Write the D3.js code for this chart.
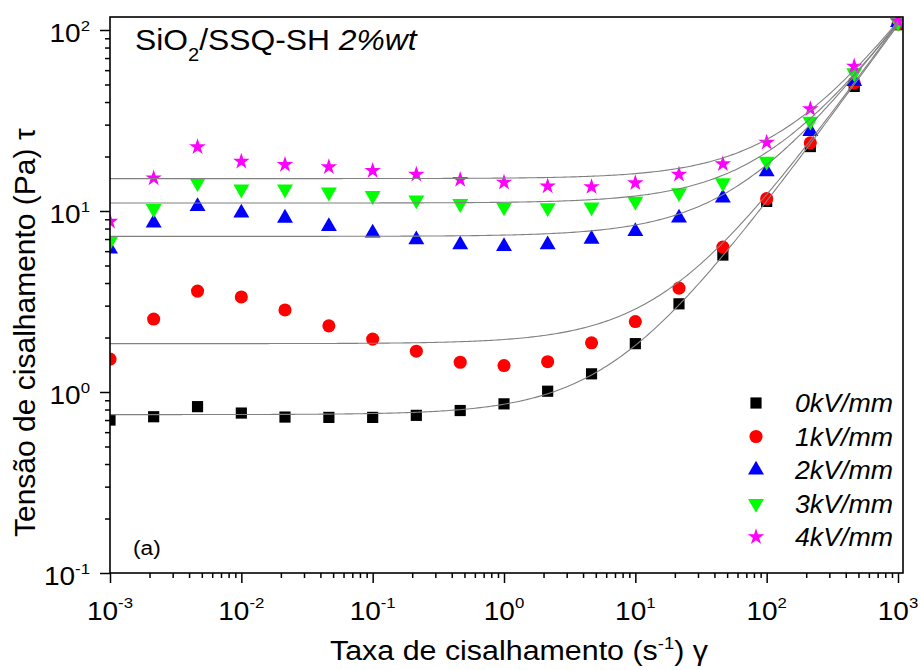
<!DOCTYPE html>
<html><head><meta charset="utf-8">
<script src="https://cdn.jsdelivr.net/npm/d3@7"></script>
<style>
html,body{margin:0;padding:0;background:#fff;}
svg{display:block;font-family:Arial,"Liberation Sans",sans-serif;}
</style></head>
<body>
<svg id="chart" width="920" height="670"></svg>
<script>
// ---- data ----
const shearRate = [0.001, 0.00215, 0.00464, 0.01, 0.0215, 0.0464, 0.1, 0.215, 0.464, 1, 2.15, 4.64, 10, 21.5, 46.4, 100, 215, 464, 1000];
const stress0kV = [0.70, 0.73, 0.83, 0.765, 0.727, 0.724, 0.724, 0.743, 0.79, 0.86, 1.01, 1.26, 1.85, 3.07, 5.71, 11.3, 22.7, 48.8, 107];
const stress1kV = [1.52, 2.53, 3.61, 3.35, 2.84, 2.32, 1.96, 1.68, 1.46, 1.40, 1.47, 1.87, 2.45, 3.75, 6.32, 11.7, 23.8, 51, 108];
const stress2kV = [6.17, 8.59, 10.6, 9.75, 9.14, 8.22, 7.56, 6.94, 6.51, 6.37, 6.51, 7.0, 7.71, 9.15, 11.8, 16.5, 27.5, 52, 110];
const stress3kV = [6.79, 10.3, 14.3, 13.2, 13.2, 12.7, 12.15, 11.5, 10.97, 10.5, 10.4, 10.5, 11.3, 12.6, 14.3, 18.8, 31.3, 57.9, 110];
const stress4kV = [8.76, 15.2, 22.6, 18.8, 18.0, 17.5, 16.7, 15.9, 14.9, 14.4, 13.7, 13.6, 14.3, 15.9, 18.2, 23.9, 36.6, 63, 112];
const seriesNames = ["0kV/mm", "1kV/mm", "2kV/mm", "3kV/mm", "4kV/mm"];
// Herschel-Bulkley fit parameters (tau = tau0 + K * gamma^n)
const fitYield = [0.75, 1.85, 7.24, 11.07, 15.1];
const fitK = [0.106, 0.1, 0.118, 0.105, 0.1];
const fitN = [1.0, 1.01, 0.98, 0.99, 0.995];
const xTickExps = [-3, -2, -1, 0, 1, 2, 3];
const yTickExps = [-1, 0, 1, 2];
const titleMain = "SiO";
const titleSub = "2";
const titleRest = "/SSQ-SH ";
const titleItalic = "2%wt";
const panelLabel = "(a)";

const allStress = [stress0kV, stress1kV, stress2kV, stress3kV, stress4kV];
const colors = ["#000000", "#ff0000", "#0000ff", "#00ff00", "#ff00ff"];

// ---- layout ----
const L = 110, R = 903, T = 17, B = 573;
const svg = d3.select("#chart");
const x = d3.scaleLog().domain([1e-3, 1e3]).range([L, 898]);
const y = d3.scaleLog().domain([0.1, 100]).range([B, 30]);

function stext(px, py, sx, anchor) {
  return svg.append("g").attr("transform", `translate(${px},${py}) scale(${sx},1)`)
    .append("text").attr("x", 0).attr("y", 0).attr("text-anchor", anchor).attr("fill", "#000");
}

svg.append("defs").append("clipPath").attr("id", "plotclip")
  .append("rect").attr("x", L).attr("y", T).attr("width", R - L).attr("height", B - T);

const symbols = [
  d3.symbol().type(d3.symbolSquare).size(125),
  d3.symbol().type(d3.symbolCircle).size(135),
  d3.symbol().type(d3.symbolTriangle).size(110),
  d3.symbol().type(d3.symbolTriangle).size(110),
  d3.symbol().type(d3.symbolStar).size(85)
];
const rot = [0, 0, 0, 180, 0];

const plot = svg.append("g").attr("clip-path", "url(#plotclip)");
allStress.forEach((vals, s) => {
  plot.append("g").selectAll("path").data(vals).join("path")
    .attr("d", symbols[s])
    .attr("fill", colors[s])
    .attr("transform", (d, i) => `translate(${x(shearRate[i])},${y(d)}) rotate(${rot[s]})`);
});

// fit curves
const gridExp = d3.range(-3, 3.0001, 0.02);
const line = d3.line().x(d => x(d[0])).y(d => y(d[1]));
fitYield.forEach((t0, s) => {
  const pts = gridExp.map(e => { const g = Math.pow(10, e); return [g, t0 + fitK[s] * Math.pow(g, fitN[s])]; });
  plot.append("path").attr("d", line(pts)).attr("fill", "none")
    .attr("stroke", "#808080").attr("stroke-width", 1.1);
});

// frame
svg.append("rect").attr("x", L).attr("y", T).attr("width", R - L).attr("height", B - T)
  .attr("fill", "none").attr("stroke", "#000").attr("stroke-width", 1.6);

// x ticks
const xAxis = d3.axisBottom(x).tickValues(xTickExps.map(e => Math.pow(10, e))).tickSize(10).tickFormat("");
const xg = svg.append("g").attr("transform", `translate(0,${B})`).call(xAxis);
const xMinor = [];
for (let e = -3; e < 3; e++) for (let m = 2; m <= 9; m++) xMinor.push(m * Math.pow(10, e));
const xgm = svg.append("g").attr("transform", `translate(0,${B})`)
  .call(d3.axisBottom(x).tickValues(xMinor).tickSize(5).tickFormat(""));
[xg, xgm].forEach(g => { g.select(".domain").remove(); g.selectAll("line").attr("stroke", "#000").attr("stroke-width", 1.5); });

const yAxis = d3.axisLeft(y).tickValues(yTickExps.map(e => Math.pow(10, e))).tickSize(10).tickFormat("");
const yg = svg.append("g").attr("transform", `translate(${L},0)`).call(yAxis);
const yMinor = [];
for (let e = -1; e < 2; e++) for (let m = 2; m <= 9; m++) yMinor.push(m * Math.pow(10, e));
const ygm = svg.append("g").attr("transform", `translate(${L},0)`)
  .call(d3.axisLeft(y).tickValues(yMinor).tickSize(5).tickFormat(""));
[yg, ygm].forEach(g => { g.select(".domain").remove(); g.selectAll("line").attr("stroke", "#000").attr("stroke-width", 1.5); });

// tick labels
xTickExps.forEach(e => {
  const t = stext(x(Math.pow(10, e)), 620, 1.12, "middle").attr("font-size", 25);
  t.append("tspan").text("10");
  t.append("tspan").attr("dy", -12).attr("font-size", 15).text(String(e));
});
yTickExps.forEach(e => {
  const t = stext(90, y(Math.pow(10, e)) + 12, 1.12, "end").attr("font-size", 25);
  t.append("tspan").text("10");
  t.append("tspan").attr("dy", -11).attr("font-size", 15).text(String(e));
});

// axis titles
const xt = stext(330, 660, 1.086, "start").attr("font-size", 28);
xt.append("tspan").text("Taxa de cisalhamento (s");
xt.append("tspan").attr("dy", -11).attr("font-size", 17).text("-1");
xt.append("tspan").attr("dy", 11).text(") γ");

const yt = svg.append("text").attr("transform", "translate(35,537) rotate(-90)")
  .attr("font-size", 30).attr("fill", "#000");
yt.append("tspan").text("Tensão de cisalhamento (Pa) τ");

// title
const tt = stext(135, 50, 1.06, "start").attr("font-size", 30);
tt.append("tspan").text(titleMain);
tt.append("tspan").attr("dy", 11).attr("font-size", 19).text(titleSub);
tt.append("tspan").attr("dy", -11).text(titleRest);
tt.append("tspan").attr("font-style", "italic").text(titleItalic);

stext(133, 555, 1.08, "start").attr("font-size", 21).text(panelLabel);

// legend
seriesNames.forEach((n, s) => {
  const ly = 403 + s * 33.5;
  svg.append("path").attr("d", symbols[s]).attr("fill", colors[s])
    .attr("transform", `translate(756,${ly}) rotate(${rot[s]})`);
  stext(795, ly + 9, 1.07, "start").attr("font-size", 25)
    .attr("font-style", "italic").text(n);
});
</script>
</body></html>
